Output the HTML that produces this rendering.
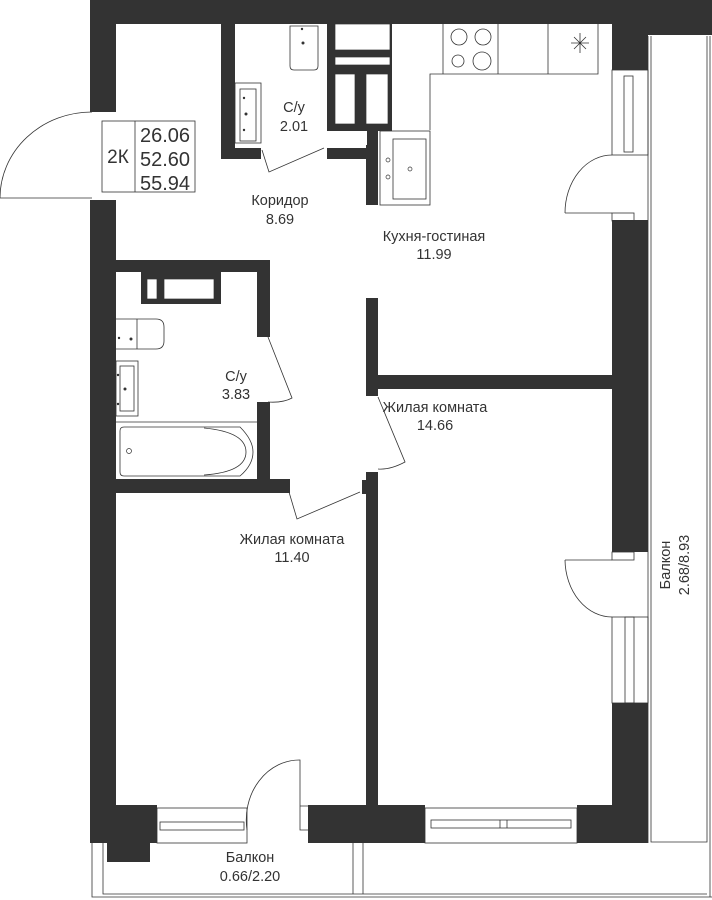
<!DOCTYPE html>
<html><head><meta charset="utf-8"><style>
html,body{margin:0;padding:0;background:#fff}
svg{display:block}
text{font-family:"Liberation Sans","Noto Sans CJK SC",sans-serif;fill:#333;font-size:14.5px;text-anchor:middle}
</style></head><body>
<svg width="712" height="900" viewBox="0 0 712 900" xmlns="http://www.w3.org/2000/svg">
<g fill="#333">
<rect x="90" y="0" width="622" height="24"/>
<rect x="612" y="0" width="100" height="35"/>
<rect x="612" y="24" width="36" height="46"/>
<rect x="90" y="0" width="26" height="112"/>
<rect x="90" y="200" width="26" height="643"/>
<rect x="107" y="843" width="43" height="19"/>
<rect x="90" y="805" width="67" height="38"/>
<rect x="612" y="220" width="36" height="332"/>
<rect x="612" y="703" width="36" height="140"/>
<rect x="577" y="805" width="71" height="38"/>
<rect x="308" y="805" width="117" height="38"/>
<rect x="366" y="375" width="246" height="14"/>
<rect x="366" y="298" width="12" height="98"/>
<rect x="366" y="472" width="12" height="333"/>
<rect x="362" y="480" width="16" height="14"/>
<rect x="221" y="24" width="14" height="134"/>
<rect x="221" y="148" width="40" height="11"/>
<rect x="327" y="24" width="65" height="107"/>
<rect x="327" y="148" width="40" height="11"/>
<rect x="366" y="130" width="12" height="75"/>
<rect x="90" y="260" width="180" height="12"/>
<rect x="257" y="260" width="13" height="77"/>
<rect x="257" y="402" width="13" height="90"/>
<rect x="90" y="479" width="200" height="14"/>
<rect x="141" y="272" width="80" height="32"/>
</g>
<g fill="#fff" stroke="#333" stroke-width="0.7">
<rect x="335" y="24" width="55" height="26"/>
<rect x="335" y="57" width="55" height="8"/>
<rect x="335" y="74" width="20" height="50"/>
<rect x="366" y="74" width="22" height="50"/>
<rect x="327" y="131" width="40" height="14" stroke="none"/>
<rect x="116" y="272" width="25" height="32" stroke="none"/>
<rect x="147" y="279" width="10" height="20"/>
<rect x="164" y="279" width="50" height="20"/>
</g>
<g fill="none" stroke="#333" stroke-width="0.8">
<rect x="102" y="121" width="93" height="71"/>
<line x1="135" y1="121" x2="135" y2="192"/>
<line x1="0" y1="198" x2="92" y2="198"/>
<path d="M0 198 A92 86 0 0 1 92 112"/>
<path d="M290 26 h28 v40 q0 4 -4 4 h-20 q-4 0 -4 -4 z"/>
<rect x="235" y="83" width="26" height="60"/>
<rect x="240" y="89" width="16" height="52"/>
<path d="M262 150 L269 172 L324 148"/>
<path d="M430 130 V74 H443 V24 M443 74 H598 V24 M498 24 V74 M548 24 V74"/>
<circle cx="459" cy="37" r="8"/><circle cx="483" cy="37" r="8"/>
<circle cx="458" cy="61" r="6"/><circle cx="482" cy="61" r="9"/>
<path d="M571 43 h18 M580 33 v20 M574 37 l12 12 M586 37 l-12 12"/>
<rect x="380" y="131" width="50" height="74"/>
<rect x="393" y="139" width="33" height="60"/>
<rect x="612" y="70" width="36" height="85"/>
<rect x="624" y="76" width="9" height="76"/>
<rect x="612" y="213" width="22" height="8"/>
<path d="M565 213 H612 M565 213 A47 58 0 0 1 612 155"/>
<rect x="612" y="617" width="36" height="86"/>
<rect x="625" y="617" width="9" height="86"/>
<rect x="612" y="552" width="22" height="8"/>
<path d="M565 560 H612 M565 560 A47 58 0 0 0 612 617"/>
<path d="M648 36 V843 M651 36 V842 H707 V36 M710 36 V897"/>
<path d="M116 319 h40 q8 0 8 8 v14 q0 8 -8 8 h-40"/>
<line x1="137" y1="319" x2="137" y2="349"/>
<rect x="116" y="361" width="22" height="55"/>
<rect x="120" y="366" width="14" height="45"/>
<line x1="116" y1="422" x2="257" y2="422"/>
<path d="M124 427 H240 Q253 440 253 452 Q253 465 240 476 H124 Q120 476 120 472 V431 Q120 427 124 427 Z"/>
<path d="M204 428 Q246 432 246 452 Q246 472 204 475"/>
<path d="M268 337 L292 398 Q283 403 268 402"/>
<path d="M378 397 L405 462 Q390 470 378 469"/>
<path d="M289 492 L297 519 L360 492"/>
<rect x="157" y="808" width="90" height="35"/>
<rect x="160" y="822" width="84" height="8"/>
<path d="M247 830 A53 60 0 0 1 300 760 V830 H308 M300 806 H308"/>
<rect x="425" y="808" width="152" height="35"/>
<rect x="431" y="820" width="140" height="8"/>
<line x1="500" y1="820" x2="500" y2="828"/>
<line x1="507" y1="820" x2="507" y2="828"/>
<path d="M92 843 V897 H712 M103 843 V894 H353 V843 M363 843 V894 M353 894 H707"/>
</g>
<g fill="#333">
<circle cx="302" cy="29" r="1.2"/><circle cx="303" cy="43" r="1.5"/>
<circle cx="244" cy="98" r="1.2"/><circle cx="246" cy="114" r="1.5"/><circle cx="244" cy="130" r="1.2"/>
<circle cx="119" cy="338" r="1.2"/><circle cx="131" cy="339" r="1.5"/>
<circle cx="118" cy="375" r="1.2"/><circle cx="125" cy="389" r="1.5"/><circle cx="118" cy="404" r="1.2"/>
</g>
<g fill="none" stroke="#333" stroke-width="0.7">
<circle cx="388" cy="160" r="2"/><circle cx="388" cy="177" r="2"/><circle cx="410" cy="169" r="2"/>
<circle cx="129" cy="451" r="2.5"/>
</g>
<text x="118" y="163" style="font-size:19px">2К</text>
<text x="165" y="142" style="font-size:20px">26.06</text>
<text x="165" y="166" style="font-size:20px">52.60</text>
<text x="165" y="190" style="font-size:20px">55.94</text>
<text x="294" y="112">С/у</text><text x="294" y="131">2.01</text>
<text x="280" y="205">Коридор</text><text x="280" y="224">8.69</text>
<text x="434" y="241">Кухня-гостиная</text><text x="434" y="259">11.99</text>
<text x="236" y="381">С/у</text><text x="236" y="399">3.83</text>
<text x="435" y="412">Жилая комната</text><text x="435" y="430">14.66</text>
<text x="292" y="544">Жилая комната</text><text x="292" y="562">11.40</text>
<text x="250" y="862">Балкон</text><text x="250" y="881">0.66/2.20</text>
<text transform="translate(670,565) rotate(-90)">Балкон</text>
<text transform="translate(689,565) rotate(-90)">2.68/8.93</text>
</svg>
</body></html>
